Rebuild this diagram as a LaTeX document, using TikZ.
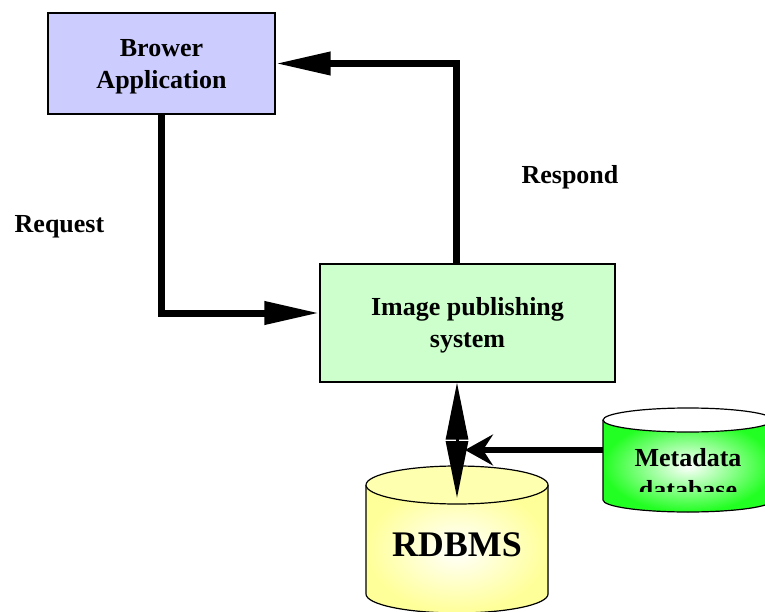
\documentclass[tikz,border=0pt]{standalone}
\usepackage{fontspec}
\setmainfont{Liberation Serif}
\usetikzlibrary{arrows.meta}
\definecolor{browfill}{HTML}{CCCCFF}
\definecolor{imgfill}{HTML}{CCFFCC}
\definecolor{dbyellow}{HTML}{FFFF99}
\definecolor{dbtop}{HTML}{FFFFB0}
\definecolor{metagreen}{HTML}{22FF22}
\begin{document}
\begin{tikzpicture}[x=1pt,y=1pt,
 box/.style={draw=black, line width=1.2pt, inner sep=0pt},
 lbl/.style={font=\fontsize{26}{32}\selectfont\bfseries, align=center, inner sep=0pt},
 bigarrow/.style={line width=7pt, -{Triangle[length=55pt,width=22pt]}},
 dbline/.style={draw=black, line width=1.2pt}]
\path[use as bounding box, clip] (0,0) rectangle (765,-612);
% boxes
\node[box, fill=browfill, minimum width=227pt, minimum height=101pt] (brow) at (161.5,-63.5) {};
\node[lbl] (browtxt) at ([yshift=-3pt]brow.center) {Brower\\Application};
\node[box, fill=imgfill, minimum width=295pt, minimum height=118pt] (img) at (467.5,-323) {};
\node[lbl] (imgtxt) at ([yshift=-2pt]img.center) {Image publishing\\system};
% main arrows
\draw[bigarrow] (brow.south) |- ([yshift=10pt]img.west);
\draw[bigarrow] ([xshift=-11pt]img.north) |- (brow.east);
\node[lbl] (req) at (59.5,-227) {Request};
\node[lbl] (resp) at (570,-177) {Respond};
% RDBMS cylinder
\fill[inner color=white, outer color=dbyellow] (366,-485) -- (366,-594) arc[start angle=180,end angle=360,x radius=91pt,y radius=19pt] -- (548,-485) -- cycle;
\draw[dbline] (366,-485) -- (366,-594) arc[start angle=180,end angle=360,x radius=91pt,y radius=19pt] -- (548,-485);
\draw[dbline, fill=dbtop] (457,-485) ellipse[x radius=91pt, y radius=19pt];
\node[lbl, font=\fontsize{36}{40}\selectfont\bfseries] (rdbms) at (457,-545) {RDBMS};
% Metadata cylinder
\fill[inner color=white, outer color=metagreen] (603,-420) -- (603,-500) arc[start angle=180,end angle=360,x radius=85pt,y radius=12pt] -- (773,-420) -- cycle;
\draw[dbline] (603,-420) -- (603,-500) arc[start angle=180,end angle=360,x radius=85pt,y radius=12pt] -- (773,-420);
\draw[dbline, fill=white] (688,-420) ellipse[x radius=85pt,y radius=12pt];
\begin{scope}
\clip (600,-400) rectangle (780,-491);
\node[lbl] (meta) at (688,-474) {Metadata\\database};
\end{scope}
% database arrows
\coordinate (metaleft) at (603,-450);
\coordinate (dbin) at (465,-450);
\coordinate (dbtopin) at (457,-498);
\draw[line width=6pt, -{Stealth[length=28pt,width=31pt,inset=10pt]}] (metaleft) -- (dbin);
\draw[line width=3pt, {Triangle[length=57pt,width=22pt]}-{Triangle[length=57pt,width=22pt]}] ([xshift=-10.5pt]img.south) -- (dbtopin);
\end{tikzpicture}
\end{document}
